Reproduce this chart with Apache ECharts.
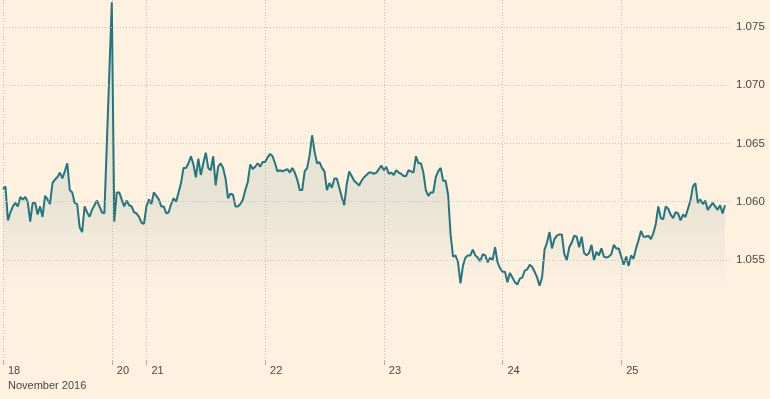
<!DOCTYPE html>
<html>
<head>
<meta charset="utf-8">
<script src="https://cdn.jsdelivr.net/npm/echarts@6/dist/echarts.min.js"></script>
<style>
  html, body { margin: 0; padding: 0; background: #fff1e0; }
  #chart { width: 770px; height: 399px; }
</style>
</head>
<body>
<div id="chart"></div>
<script>
// Trading days shown on the axis (weekend compressed), 30-minute steps
const dayLabels = ['18', '20', '21', '22', '23', '24', '25'];
const dayStartHour = [0, 17, 0, 0, 0, 0, 0];
const dayCounts = [44, 14, 48, 48, 48, 48, 45];
const monthLabel = 'November 2016';

// Rate, half-hourly
const fri18 = [1.0611,1.0613,1.0584,1.0591,1.0596,1.0599,1.0596,1.0604,1.0602,1.0604,
  1.0600,1.0583,1.0599,1.0599,1.0589,1.0596,1.0587,1.0605,1.0602,1.0598,
  1.0616,1.0619,1.0621,1.0625,1.0620,1.0626,1.0633,1.0610,1.0608,1.0599,
  1.0598,1.0578,1.0574,1.0596,1.0591,1.0587,1.0593,1.0597,1.0601,1.0596,
  1.0591,1.0590];
const sun20 = [1.0771,1.0583,1.0608,1.0608,1.0602,1.0596,1.0601,1.0597,1.0596,1.0591,
  1.0590,1.0587,1.0582,1.0581];
const mon21 = [1.0596,1.0602,1.0598,1.0608,1.0605,1.0602,1.0596,1.0596,1.0590,1.0591,
  1.0598,1.0603,1.0600,1.0608,1.0616,1.0629,1.0629,1.0633,1.0639,1.0632,
  1.0621,1.0637,1.0623,1.0633,1.0642,1.0629,1.0627,1.0639,1.0614,1.0630,
  1.0633,1.0629,1.0620,1.0603,1.0607,1.0606,1.0596,1.0596,1.0598,1.0602,
  1.0610,1.0617,1.0632,1.0628,1.0630,1.0633,1.0630,1.0634];
const tue22 = [1.0634,1.0638,1.0641,1.0639,1.0633,1.0626,1.0627,1.0626,1.0627,1.0628,
  1.0625,1.0629,1.0625,1.0619,1.0610,1.0610,1.0626,1.0629,1.0640,1.0657,
  1.0643,1.0633,1.0634,1.0629,1.0626,1.0610,1.0616,1.0612,1.0620,1.0620,
  1.0612,1.0604,1.0597,1.0615,1.0626,1.0622,1.0618,1.0616,1.0614,1.0618,
  1.0621,1.0623,1.0625,1.0625,1.0624,1.0625,1.0628,1.0631];
const wed23 = [1.0627,1.0630,1.0624,1.0625,1.0623,1.0627,1.0625,1.0624,1.0622,1.0622,
  1.0627,1.0626,1.0625,1.0639,1.0633,1.0633,1.0625,1.0610,1.0605,1.0608,
  1.0608,1.0621,1.0626,1.0629,1.0618,1.0618,1.0606,1.0572,1.0553,1.0554,
  1.0548,1.0530,1.0545,1.0552,1.0554,1.0554,1.0559,1.0554,1.0552,1.0549,
  1.0555,1.0554,1.0548,1.0552,1.0550,1.0561,1.0548,1.0543];
const thu24 = [1.0540,1.0540,1.0531,1.0539,1.0535,1.0531,1.0529,1.0534,1.0535,1.0541,
  1.0542,1.0546,1.0544,1.0540,1.0535,1.0528,1.0535,1.0559,1.0565,1.0574,
  1.0560,1.0568,1.0571,1.0572,1.0572,1.0555,1.0550,1.0561,1.0565,1.0571,
  1.0570,1.0561,1.0570,1.0556,1.0554,1.0556,1.0563,1.0550,1.0557,1.0554,
  1.0560,1.0553,1.0552,1.0553,1.0555,1.0563,1.0560,1.0560];
const fri25 = [1.0553,1.0546,1.0553,1.0545,1.0554,1.0551,1.0560,1.0567,1.0575,1.0570,
  1.0570,1.0571,1.0568,1.0573,1.0581,1.0596,1.0586,1.0585,1.0596,1.0594,
  1.0589,1.0586,1.0591,1.0590,1.0584,1.0589,1.0587,1.0594,1.0601,1.0613,
  1.0616,1.0599,1.0602,1.0598,1.0601,1.0593,1.0596,1.0599,1.0596,1.0593,
  1.0597,1.0590,1.0597];

const yTicks = [1.055, 1.060, 1.065, 1.070, 1.075];
const yMin = 1.046, yMax = 1.0773;

// build categories and the aligned series
const dayArrays = [fri18, sun20, mon21, tue22, wed23, thu24, fri25];
const categories = [];
const values = [];
const dayFirst = {};
dayLabels.forEach((d, k) => {
  dayFirst[categories.length] = d;
  for (let j = 0; j < dayCounts[k]; j++) {
    const mins = dayStartHour[k] * 60 + j * 30;
    const hh = String(Math.floor(mins / 60)).padStart(2, '0');
    const mm = String(mins % 60).padStart(2, '0');
    categories.push(d + ' ' + hh + ':' + mm);
    const v = dayArrays[k][j];
    values.push(v === undefined ? null : v);
  }
});

const isDayStart = (idx) => dayFirst[idx] !== undefined;
const gridColor = '#cbc1b4';
const textColor = '#4a4642';
const font = 'Liberation Sans, Arial, sans-serif';

const chart = echarts.init(document.getElementById('chart'), null, { renderer: 'canvas' });
chart.setOption({
  backgroundColor: '#fff1e0',
  animation: false,
  grid: { left: 1.5, right: 40, top: 0, bottom: 34, containLabel: false },
  xAxis: {
    type: 'category',
    data: categories,
    boundaryGap: false,
    axisLine: { show: false },
    axisTick: {
      show: true, inside: true, length: 5,
      interval: (i) => isDayStart(i),
      lineStyle: { color: '#b8ada0', width: 1 }
    },
    splitLine: {
      show: true,
      interval: (i) => isDayStart(i),
      lineStyle: { color: gridColor, width: 1, type: [1, 2] }
    },
    axisLabel: {
      interval: (i) => isDayStart(i),
      formatter: (val) => {
        const d = val.split(' ')[0];
        return d === dayLabels[0] ? d + '\n' + monthLabel : d;
      },
      align: 'left',
      padding: [0, 0, 0, 5],
      margin: -2,
      color: textColor,
      fontFamily: font,
      fontSize: 11,
      lineHeight: 15
    }
  },
  yAxis: {
    type: 'value',
    position: 'right',
    min: yMin,
    max: yMax,
    axisLine: { show: false },
    axisTick: { show: false },
    axisLabel: { show: false },
    splitLine: { show: false }
  },
  series: [{
    type: 'line',
    data: values,
    connectNulls: true,
    showSymbol: false,
    symbol: 'none',
    smooth: false,
    lineStyle: { color: '#23767e', width: 2 },
    areaStyle: {
      origin: 'start',
      color: new echarts.graphic.LinearGradient(0, 0, 0, 1, [
        { offset: 0, color: 'rgba(100,150,150,0.24)' },
        { offset: 0.55, color: 'rgba(100,150,150,0.21)' },
        { offset: 0.8, color: 'rgba(100,150,150,0)' }
      ])
    },
    markLine: {
      silent: true,
      precision: 4,
      symbol: ['none', 'none'],
      animation: false,
      lineStyle: { color: gridColor, width: 1, type: [1, 2] },
      label: {
        show: true,
        position: 'end',
        distance: 6,
        color: textColor,
        fontFamily: font,
        fontSize: 11.5,
        formatter: (p) => Number(p.value).toFixed(3)
      },
      emphasis: { disabled: true },
      data: yTicks.map(v => ({ yAxis: v }))
    }
  }]
});
</script>
</body>
</html>
